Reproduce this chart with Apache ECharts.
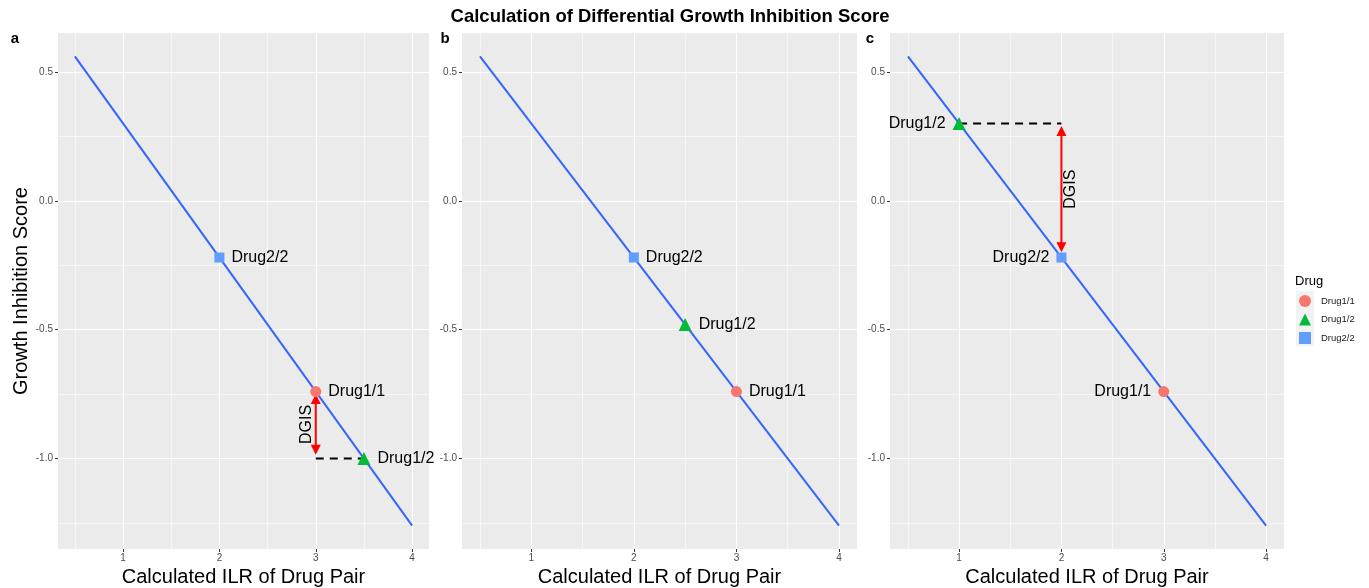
<!DOCTYPE html>
<html>
<head>
<meta charset="utf-8">
<script src="https://cdn.jsdelivr.net/npm/echarts/dist/echarts.min.js"></script>
<style>
  html, body { margin: 0; padding: 0; background: #ffffff; }
  #chart { width: 1369px; height: 588px; }
</style>
</head>
<body>
<div id="chart"></div>
<script>
// ---- data ----
const panelLetters = ['a', 'b', 'c'];
const drugNames = ['Drug1/1', 'Drug1/2', 'Drug2/2'];
const tickX = [1, 2, 3, 4];
const tickY = [-1.0, -0.5, 0.0, 0.5];
const minorX = [0.5, 1.5, 2.5, 3.5];
const minorY = [-1.25, -0.75, -0.25, 0.25];

// fitted line (same in every panel)
const fitX = [0.5, 4];
const fitY = [0.56, -1.26];

// drug points, one entry per panel
const drug11X = [3, 3, 3];
const drug11Y = [-0.74, -0.74, -0.74];
const drug12X = [3.5, 2.5, 1];
const drug12Y = [-1.0, -0.48, 0.30];
const drug22X = [2, 2, 2];
const drug22Y = [-0.22, -0.22, -0.22];

// dashed guide lines per panel (null = none)
const guideX = [[3, 3.5], null, [1, 2]];
const guideY = [[-1.0, -1.0], null, [0.30, 0.30]];

// DGIS double arrows per panel: x, top, bottom
const arrowX = [3, null, 2];
const arrowTop = [-0.75, null, 0.29];
const arrowBottom = [-0.985, null, -0.20];
const arrowText = 'DGIS';

// ---- style ----
const FONT = '"Liberation Sans", Arial, Helvetica, sans-serif';
const drugColors = ['#F8766D', '#00BA38', '#619CFF'];
const drugSymbols = ['circle', 'triangle', 'rect'];
const drugSizes = [11, 13, 10];
const labelSide = ['right', 'right', 'left'];
const arrowTextSide = [-1, 0, 1];

const gridLeft = [58, 462, 890];
const gridWidth = [371, 395, 394];
const gridTop = 33;
const gridHeight = 516;

const chart = echarts.init(document.getElementById('chart'), null, { renderer: 'canvas' });

const grids = [], xAxes = [], yAxes = [], series = [];

panelLetters.forEach((p, i) => {
  grids.push({
    left: gridLeft[i], top: gridTop, width: gridWidth[i], height: gridHeight,
    show: true, backgroundColor: '#EBEBEB', borderWidth: 0, containLabel: false,
    outerBoundsMode: 'none'
  });
  xAxes.push({
    gridIndex: i, type: 'value', min: 0.325, max: 4.175,
    name: 'Calculated ILR of Drug Pair', nameLocation: 'middle', nameGap: 14,
    nameTextStyle: { fontSize: 20, color: '#000', fontFamily: FONT, verticalAlign: 'top' },
    axisLine: { show: false, onZero: false },
    axisTick: { show: true, length: 3, customValues: tickX, lineStyle: { color: '#333', width: 1 } },
    axisLabel: { customValues: tickX, margin: 4, fontSize: 10, color: '#4D4D4D', fontFamily: FONT },
    splitLine: { show: true, lineStyle: { color: '#FFFFFF', width: 1.1 } }
  });
  yAxes.push({
    gridIndex: i, type: 'value', min: -1.351, max: 0.651,
    name: i === 0 ? 'Growth Inhibition Score' : '', nameLocation: 'middle', nameGap: 25,
    nameTextStyle: { fontSize: 20, color: '#000', fontFamily: FONT },
    axisLine: { show: false, onZero: false },
    axisTick: { show: true, length: 3, customValues: tickY, lineStyle: { color: '#333', width: 1 } },
    axisLabel: {
      customValues: tickY, margin: 5, fontSize: 10, color: '#4D4D4D', fontFamily: FONT,
      formatter: v => v.toFixed(1)
    },
    splitLine: { show: true, lineStyle: { color: '#FFFFFF', width: 1.1 } }
  });

  // minor grid lines
  series.push({
    type: 'line', xAxisIndex: i, yAxisIndex: i, data: [], z: 1, silent: true,
    markLine: {
      silent: true, symbol: 'none', z: 1, animation: false,
      label: { show: false },
      lineStyle: { color: '#FFFFFF', width: 0.55, type: 'solid' },
      emphasis: { disabled: true },
      data: minorX.map(v => ({ xAxis: v })).concat(minorY.map(v => ({ yAxis: v })))
    }
  });

  // fitted line
  series.push({
    type: 'line', xAxisIndex: i, yAxisIndex: i, z: 3, silent: true,
    symbol: 'none', lineStyle: { color: '#3366FF', width: 2 },
    data: fitX.map((x, k) => [x, fitY[k]])
  });

  // dashed guide
  if (guideX[i]) {
    series.push({
      type: 'line', xAxisIndex: i, yAxisIndex: i, z: 3, silent: true,
      symbol: 'none', lineStyle: { color: '#000000', width: 2, type: [8, 6] },
      data: guideX[i].map((x, k) => [x, guideY[i][k]])
    });
  }

  // DGIS arrow
  if (arrowX[i] !== null) {
    series.push({
      type: 'custom', xAxisIndex: i, yAxisIndex: i, z: 4, silent: true,
      data: [[arrowX[i], arrowTop[i], arrowBottom[i], arrowTextSide[i]]],
      renderItem: (params, api) => {
        const x = api.value(0);
        const pTop = api.coord([x, api.value(1)]);
        const pBot = api.coord([x, api.value(2)]);
        const side = api.value(3);
        const head = 10, hw = 5;
        const red = '#FF0000';
        const cx = pTop[0];
        return {
          type: 'group',
          children: [
            { type: 'line', shape: { x1: cx, y1: pTop[1] + head - 1, x2: cx, y2: pBot[1] - head + 1 },
              style: { stroke: red, lineWidth: 2 } },
            { type: 'polygon', shape: { points: [[cx, pTop[1]], [cx - hw, pTop[1] + head], [cx + hw, pTop[1] + head]] },
              style: { fill: red } },
            { type: 'polygon', shape: { points: [[cx, pBot[1]], [cx - hw, pBot[1] - head], [cx + hw, pBot[1] - head]] },
              style: { fill: red } },
            { type: 'text', x: cx + side * 9, y: (pTop[1] + pBot[1]) / 2, rotation: Math.PI / 2,
              style: { text: arrowText, fontSize: 16, fontFamily: FONT, fill: '#000',
                       align: 'center', verticalAlign: 'middle' } }
          ]
        };
      }
    });
  }

  // drug points
  const px = [drug11X, drug12X, drug22X];
  const py = [drug11Y, drug12Y, drug22Y];
  drugNames.forEach((name, d) => {
    series.push({
      name: name, type: 'scatter', xAxisIndex: i, yAxisIndex: i, z: 5,
      symbol: drugSymbols[d], symbolSize: drugSizes[d],
      itemStyle: { color: drugColors[d], opacity: 1 },
      label: {
        show: true, position: labelSide[i], distance: 7, formatter: name,
        fontSize: 16, color: '#000', fontFamily: FONT
      },
      data: [[px[d][i], py[d][i]]]
    });
  });
});

const graphics = [
  { type: 'text', x: 670, y: 17, style: { text: 'Calculation of Differential Growth Inhibition Score',
    font: 'bold 18.5px ' + FONT, fill: '#000', align: 'center', verticalAlign: 'middle' } },
  { type: 'text', x: 1295, y: 281, style: { text: 'Drug', font: '13px ' + FONT, fill: '#000',
    align: 'left', verticalAlign: 'middle' } },
  { type: 'rect', shape: { x: 1296, y: 291, width: 18, height: 55 }, style: { fill: '#F2F2F2' }, z: -1 }
];
const letterX = [15, 445, 870];
panelLetters.forEach((p, i) => {
  graphics.push({ type: 'text', x: letterX[i], y: 39, style: { text: p, font: 'bold 15px ' + FONT,
    fill: '#000', align: 'center', verticalAlign: 'middle' } });
});

chart.setOption({
  animation: false,
  textStyle: { fontFamily: FONT },
  grid: grids,
  xAxis: xAxes,
  yAxis: yAxes,
  legend: {
    orient: 'vertical', left: 1294, top: 290, itemWidth: 12, itemHeight: 12, itemGap: 6.5,
    textStyle: { fontSize: 9.5, color: '#1A1A1A', fontFamily: FONT, padding: [0, 0, 0, 5] },
    selectedMode: false,
    data: drugNames.map((n, d) => ({ name: n, icon: drugSymbols[d] }))
  },
  graphic: graphics,
  series: series
});
</script>
</body>
</html>
